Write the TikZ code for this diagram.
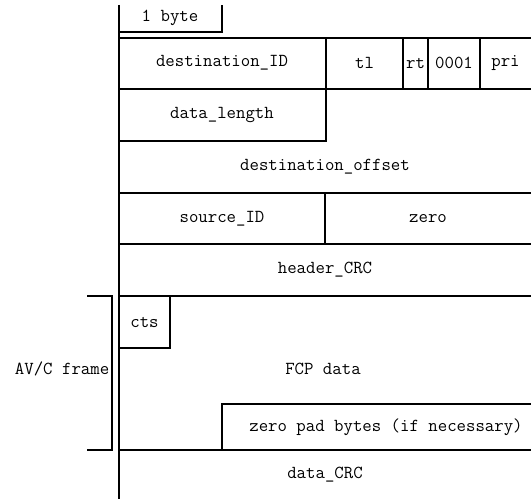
\documentclass[tikz,border=0pt]{standalone}
\usepackage{fontspec}
\begin{document}
\begin{tikzpicture}[x=1pt,y=1pt,line width=1.6pt,
	field/.style={font=\ttfamily\fontsize{18.3}{21}\selectfont,inner sep=0pt}]
\useasboundingbox (0,0) rectangle (531,499);
% frame edges
\draw (119,494) -- (119,0);
\draw (119,467) -- (222,467) -- (222,494);
\foreach \y in {461,410,306,255,203,49}
	\draw (119,\y) -- (531,\y);
% header fields
\draw (326,461) -- (326,358) -- (119,358);
\foreach \x in {403,428,480}
	\draw (\x,461) -- (\x,410);
\draw (325,306) -- (325,255);
% data block
\draw (119,151) -- (170,151) -- (170,203);
\draw (222,49) -- (222,95) -- (531,95);
\draw (87,203) -- (112,203) -- (112,49) -- (87,49);
\node[field] (byte) at (170,481) {1 byte};
\node[field] (dest) at (222,436) {destination\_ID};
\node[field] (tl) at (364.5,436) {tl};
\node[field] (rt) at (415.5,436) {rt};
\node[field] (tcode) at (454,436) {0001};
\node[field] (pri) at (505.5,436) {pri};
\node[field] (len) at (222,384) {data\_length};
\node[field] (offset) at (325,332) {destination\_offset};
\node[field] (src) at (222,280.5) {source\_ID};
\node[field] (zero) at (428,280.5) {zero};
\node[field] (hcrc) at (325,229) {header\_CRC};
\node[field] (cts) at (144.5,177) {cts};
\node[field] (fcp) at (323,130) {FCP data};
\node[field] (pad) at (386,72) {zero pad bytes (if necessary)};
\node[field] (dcrc) at (325,24) {data\_CRC};
\node[field,anchor=east] (avc) at (110,130) {AV/C frame};
\end{tikzpicture}
\end{document}
